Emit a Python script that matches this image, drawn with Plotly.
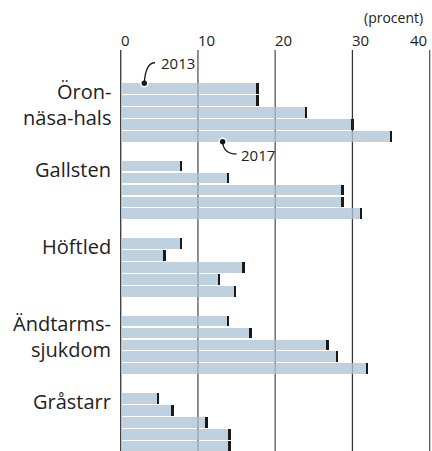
import plotly.graph_objects as go

groups = ["Öron-<br>näsa-hals", "Gallsten", "Höftled", "Ändtarms-<br>sjukdom", "Gråstarr"]
years = [2013, 2014, 2015, 2016, 2017]
oron = [17.7, 17.7, 24.0, 30.0, 35.0]
gallsten = [7.8, 13.9, 28.7, 28.7, 31.1]
hoftled = [7.8, 5.7, 15.9, 12.7, 14.8]
andtarm = [13.9, 16.8, 26.8, 28.0, 31.9]
grastarr = [4.8, 6.7, 11.1, 14.1, 14.1]
x_ticks = [0, 10, 20, 30, 40]

series = [oron, gallsten, hoftled, andtarm, grastarr]
GROUP_STEP = 6.5
CAP = 0.32

ys, xs = [], []
for g, vals in enumerate(series):
    for i, v in enumerate(vals):
        ys.append(g * GROUP_STEP + i)
        xs.append(v)

FONT = "Open Sans"
fig = go.Figure()
fig.add_trace(go.Bar(
    x=xs, y=ys, orientation="h", width=0.9,
    marker=dict(color="#bfd1de", line=dict(width=0)),
    hoverinfo="skip", showlegend=False,
))
fig.add_trace(go.Bar(
    x=[CAP] * len(xs), base=[v - CAP / 2 for v in xs], y=ys, orientation="h", width=0.9,
    marker=dict(color="#1a1a1a", line=dict(width=0)),
    hoverinfo="skip", showlegend=False,
))

# annotation dots (first year of first group, last year of first group)
fig.add_trace(go.Scatter(
    x=[3.05, 13.2], y=[-0.45, 4.45], mode="markers",
    marker=dict(size=7, color="#1a1a1a", line=dict(color="white", width=1.5)),
    hoverinfo="skip", showlegend=False, cliponaxis=False,
))

shapes = []
# vertical grid lines at the tick values: solid below the bars, faint trace over them
for t in x_ticks:
    dark = t in (0, 30)
    shapes.append(dict(type="line", xref="x", yref="paper", x0=t, x1=t, y0=0, y1=1,
                       layer="below",
                       line=dict(color="#333" if dark else "#666", width=1.2)))
    shapes.append(dict(type="line", xref="x", yref="paper", x0=t, x1=t, y0=0, y1=1,
                       layer="above",
                       line=dict(color="rgba(60,60,60,0.3)", width=1.2)))
shapes += [
    dict(type="path", xref="x", yref="y", path="M 3.05,-0.45 Q 3.21,-2.17 4.44,-2.17",
         line=dict(color="#1a1a1a", width=1.3)),
    dict(type="path", xref="x", yref="y", path="M 13.2,4.45 Q 13.3,5.48 15.0,5.48",
         line=dict(color="#1a1a1a", width=1.3)),
]

annotations = [
    dict(x=5.0, y=-2.17, xref="x", yref="y", text=str(years[0]), showarrow=False,
         xanchor="left", yanchor="middle", font=dict(family=FONT, size=15, color="#222")),
    dict(x=15.35, y=5.55, xref="x", yref="y", text=str(years[-1]), showarrow=False,
         xanchor="left", yanchor="middle", font=dict(family=FONT, size=15, color="#222")),
    dict(x=39.4, y=1.08, xref="x", yref="paper", text="(procent)", showarrow=False,
         xanchor="right", yanchor="middle", font=dict(family=FONT, size=14, color="#222")),
]
# tick labels: left-aligned at their grid line, the last one right-aligned
for i, t in enumerate(x_ticks):
    last = i == len(x_ticks) - 1
    annotations.append(dict(
        x=t, y=1.025, xref="x", yref="paper", text=str(t), showarrow=False,
        xanchor="right" if last else "left", yanchor="middle",
        xshift=-1 if last else -2,
        font=dict(family=FONT, size=15, color="#222"),
    ))
for g, name in enumerate(groups):
    nlines = name.count("<br>") + 1
    annotations.append(dict(
        x=-0.024, y=g * GROUP_STEP + 0.25 + (nlines - 1) * 1.08, xref="paper", yref="y",
        text=name, showarrow=False, xanchor="right", yanchor="middle", align="right",
        font=dict(family=FONT, size=20, color="#222"),
    ))

fig.update_layout(
    width=432, height=451,
    margin=dict(l=120, r=0, t=50, b=0),
    paper_bgcolor="white", plot_bgcolor="white",
    barmode="overlay", bargap=0,
    shapes=shapes, annotations=annotations,
    xaxis=dict(range=[-0.09, 40.3], showgrid=False, zeroline=False,
               showline=False, ticks="", showticklabels=False),
    yaxis=dict(range=[30.4, -3.24], visible=False, showgrid=False, zeroline=False),
)
fig.write_html(
    "out.html",
    config={"displayModeBar": False, "staticPlot": True},
    post_script=(
        "document.body.style.margin='0';"
        "document.body.style.overflow='hidden';"
        "document.documentElement.style.overflow='hidden';"
    ),
)
